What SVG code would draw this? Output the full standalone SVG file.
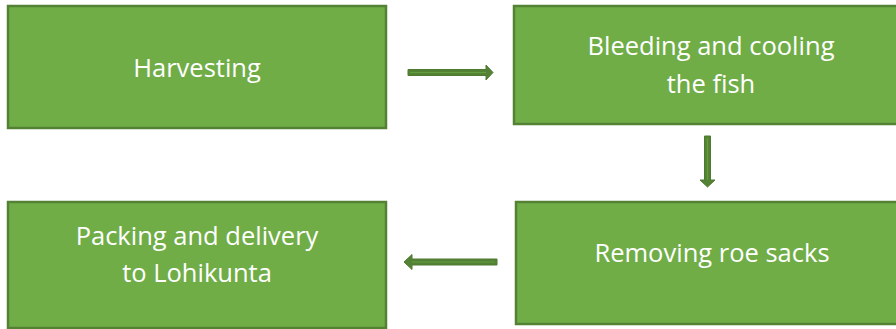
<svg xmlns="http://www.w3.org/2000/svg" width="896" height="329" viewBox="0 0 896 329">
<style>
.box{fill:#70AD47;stroke:#548235;stroke-width:2.5}
.t{font-family:"Open Sans","Noto Sans",sans-serif;font-size:25.5px;fill:#FFFFFF;text-anchor:middle}
.arr{fill:#548235;stroke:#4E7A30;stroke-width:1}
.arrin{stroke:#70AD47;stroke-width:1.2;fill:none;opacity:0.6}
</style>
<rect width="896" height="329" fill="#FFFFFF"/>
<g id="n1"><rect class="box" x="8" y="6" width="378" height="122"/><text class="t" x="197" y="77">Harvesting</text></g>
<g id="n2"><rect class="box" x="514" y="6" width="390" height="118"/><text class="t" x="711" y="55">Bleeding and cooling</text><text class="t" x="711" y="93">the fish</text></g>
<g id="n3"><rect class="box" x="516" y="202" width="390" height="122"/><text class="t" x="712" y="262">Removing roe sacks</text></g>
<g id="n4"><rect class="box" x="8" y="202" width="378" height="126"/><text class="t" x="197" y="245">Packing and delivery</text><text class="t" x="197" y="282">to Lohikunta</text></g>
<g id="connectors">
<path class="arr" d="M408,69.5 H486 V65 L493,72.5 L486,80 V75.5 H408 Z"/>
<line class="arrin" x1="410" y1="72.5" x2="486" y2="72.5"/>
<path class="arr" d="M704.5,136 H710.5 V180 H715 L707.5,187 L700,180 H704.5 Z"/>
<line class="arrin" x1="707.5" y1="138" x2="707.5" y2="180"/>
<path class="arr" d="M497,259 H412 V254.5 L404,262 L412,269.5 V265 H497 Z"/>
<line class="arrin" x1="495" y1="262" x2="412" y2="262"/>
</g>
</svg>
